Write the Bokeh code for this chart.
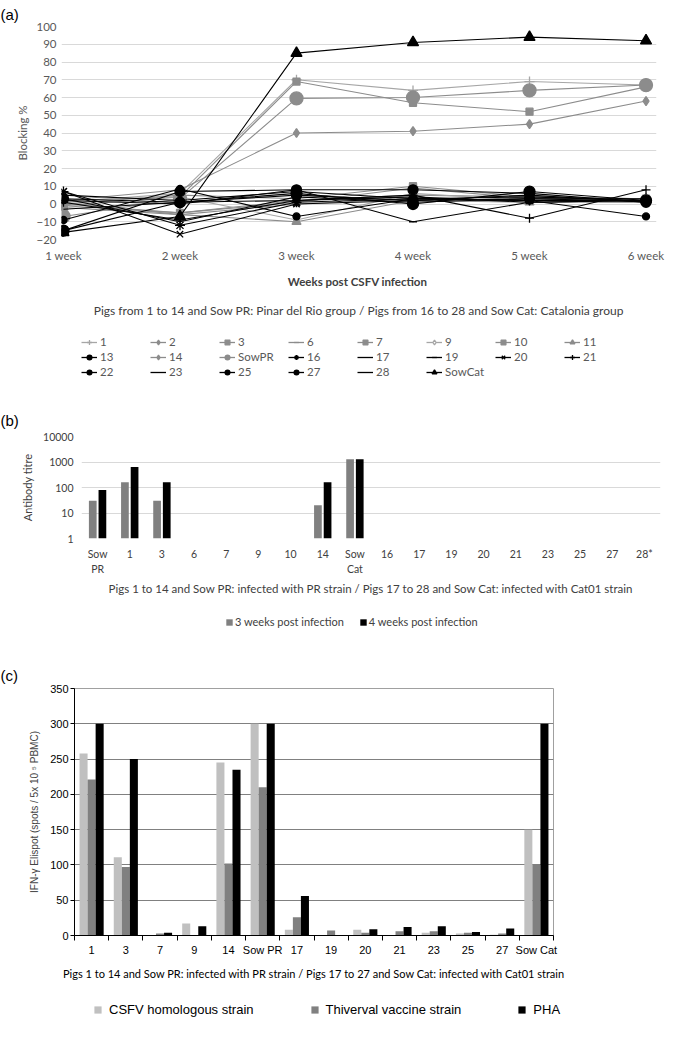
import numpy as np
from bokeh.plotting import figure
from bokeh.models import (Range1d, FixedTicker, Legend, LegendItem, Title,
                          NumeralTickFormatter, FactorRange, ColumnDataSource,
                          CustomJSTickFormatter, CategoricalAxis)
from bokeh.transform import dodge
from bokeh.embed import file_html
from bokeh.resources import INLINE

# ---------------- Panel (a) data: blocking % by week ----------------
weeks = [1, 2, 3, 4, 5, 6]
week_labels = ["1 week", "2 week", "3 week", "4 week", "5 week", "6 week"]
pig_1 = [1, 6, 70, 64, 69, 67]
pig_2 = [0, -5, 2, 5, 4, 3]
pig_3 = [-1, 4, 69, 57, 52, 66]
pig_6 = [1, -6, 0, 3, 2, 2]
pig_7 = [-1, -5, 1, 9, 3, 2]
pig_9 = [2, 4, -9, 6, 2, 1]
pig_10 = [0, 5, 3, 10, 4, 3]
pig_11 = [-2, -6, -10, 2, 1, 1]
pig_13 = [-15, 1, 6, 0, 7, 2]
pig_14 = [2, 8, 40, 41, 45, 58]
sow_pr = [-7, 3, 59.5, 60, 64, 67]
pig_16 = [7, -12, 1, 3, 2, 2]
pig_17 = [5, 2, 7, 3, 4, 2]
pig_19 = [2, 0, 8, -10, 1, 2]
pig_20 = [7, -17, 0, 2, 5, 1]
pig_21 = [1, -9, 2, 5, -8, 8]
pig_22 = [-9, 8.5, -7, 3, 2, -7]
pig_23 = [3, -10, 4, 1, 3, 3]
pig_25 = [-15, 7, 8, 8, 6, 1]
pig_27 = [3, 1, 5, 2, 3, 1.5]
pig_28 = [-3, 1, 2, 4, 1, 2]
sow_cat = [-16, -7, 85, 91, 94, 92]

series_names = ["1", "2", "3", "6", "7", "9", "10", "11", "13", "14", "SowPR",
                "16", "17", "19", "20", "21", "22", "23", "25", "27", "28", "SowCat"]
series_values = [pig_1, pig_2, pig_3, pig_6, pig_7, pig_9, pig_10, pig_11, pig_13,
                 pig_14, sow_pr, pig_16, pig_17, pig_19, pig_20, pig_21, pig_22,
                 pig_23, pig_25, pig_27, pig_28, sow_cat]

# styles: (line colour, marker, size, fill)
G1, G2 = "#a6a6a6", "#8c8c8c"
styles = {
    "1": (G1, "cross", 10, G1), "2": (G2, "diamond", 10, G2), "3": (G2, "square", 7, G2),
    "6": (G2, "dash", 8, G2), "7": (G2, "square", 7, G2), "9": (G1, "diamond", 9, "white"),
    "10": (G2, "square", 7, G2), "11": (G2, "triangle", 9, G2), "13": ("black", "circle", 11, "black"),
    "14": (G2, "diamond", 9, G2), "SowPR": (G2, "circle", 13, G2), "16": ("black", "asterisk", 10, "black"),
    "17": ("black", None, 0, None), "19": ("black", "dash", 8, "black"), "20": ("black", "x", 9, "black"),
    "21": ("black", "cross", 9, "black"), "22": ("black", "circle", 7, "black"),
    "23": ("black", None, 0, None), "25": ("black", "circle", 10, "black"),
    "27": ("black", "circle", 10, "black"), "28": ("black", None, 0, None),
    "SowCat": ("black", "triangle", 11, "black"),
}
legend_marker_size = {"13": 9, "SowPR": 8, "SowCat": 8, "25": 8, "27": 8, "2": 8, "1": 8}

# ---------------- Panel (b) data: antibody titre ----------------
pigs_b = ["Sow PR", "1", "3", "6", "7", "9", "10", "14", "Sow Cat", "16", "17",
          "19", "20", "21", "23", "25", "27", "28*"]
titre_3w = [30, 160, 30, None, None, None, None, 20, 1280, None, None, None, None, None, None, None, None, None]
titre_4w = [80, 640, 160, None, None, None, None, 160, 1280, None, None, None, None, None, None, None, None, None]

# ---------------- Panel (c) data: IFN-gamma ELISPOT ----------------
pigs_c = ["1", "3", "7", "9", "14", "Sow PR", "17", "19", "20", "21", "23", "25", "27", "Sow Cat"]
csfv_homologous = [258, 111, 0, 17, 245, 300, 8, 0, 8, 0, 4, 3, 1, 150]
thiverval = [221, 97, 3, 0, 102, 210, 26, 7, 4, 6, 6, 4, 3, 100]
pha = [300, 250, 4, 13, 235, 300, 56, 0, 9, 12, 13, 5, 10, 300]

FONT = "Lato"
ARIAL = "Liberation Sans"
W = 665
NAN = [np.nan]   # placeholder source for legend-only swatches


def panel_title(text, offset, standoff):
    return Title(text=text, align="left", offset=offset, standoff=standoff,
                 text_font=ARIAL, text_font_size="15px", text_font_style="normal",
                 text_color="#000000")


def text_title(text, size, color, font, offset, standoff, style="normal"):
    return Title(text=text, align="center", offset=offset, standoff=standoff,
                 text_font=font, text_font_size=size, text_font_style=style,
                 text_color=color)


def legend_fig(height):
    f = figure(width=W, height=height, x_range=Range1d(0, 1), y_range=Range1d(0, 1),
               output_backend="svg", toolbar_location=None, min_border=0)
    f.axis.visible = False
    f.grid.visible = False
    f.outline_line_color = None
    return f


def no_ticks(ax):
    ax.axis_line_color = None
    ax.major_tick_line_color = None
    ax.minor_tick_line_color = None
    ax.major_tick_out = 0
    ax.major_tick_in = 0
    ax.minor_tick_out = 0
    ax.minor_tick_in = 0


# ======================= Panel (a) =======================
pa = figure(width=W, height=328, x_range=Range1d(0.983, 6.09), y_range=Range1d(-20, 100),
            output_backend="svg", toolbar_location=None,
            min_border_left=61, min_border_right=9, min_border_top=24, min_border_bottom=85)
pa.outline_line_color = None
pa.xgrid.visible = False
yt = FixedTicker(ticks=list(range(-20, 101, 10)))
pa.yaxis.ticker = yt
pa.ygrid.ticker = yt
pa.ygrid.grid_line_color = "#d9d9d9"
pa.xaxis.ticker = FixedTicker(ticks=weeks)
pa.xaxis.major_label_overrides = {w: l for w, l in zip(weeks, week_labels)}
for ax in (pa.xaxis[0], pa.yaxis[0]):
    no_ticks(ax)
    ax.major_label_text_font = FONT
    ax.major_label_text_font_size = "11.5px"
    ax.major_label_text_color = "#595959"
    ax.axis_label_text_font = FONT
    ax.axis_label_text_color = "#595959"
pa.xaxis.major_label_standoff = 9
pa.yaxis.major_label_standoff = 5
pa.yaxis.axis_label = "Blocking %"
pa.yaxis.axis_label_text_font_size = "11.5px"
pa.yaxis.axis_label_text_font_style = "normal"
pa.yaxis.axis_label_standoff = 4
pa.xaxis.axis_label = "Weeks post  CSFV infection"
pa.xaxis.axis_label_text_font_size = "11.5px"
pa.xaxis.axis_label_text_font_style = "bold"
pa.xaxis.axis_label_text_color = "#404040"
pa.xaxis.axis_label_standoff = 10

for name, vals in zip(series_names, series_values):
    col, mk, sz, fill = styles[name]
    pa.line(weeks, vals, line_color=col, line_width=1.1)
    if mk is not None:
        pa.scatter(weeks, vals, marker=mk, size=sz, line_color=col,
                   fill_color=fill, line_width=1.3)

pa.add_layout(panel_title("(a)", -61, 7), "above")
pa.add_layout(text_title("Pigs from 1 to 14 and Sow PR: Pinar del Rio group / Pigs from 16 to 28 and Sow Cat: Catalonia group",
                         "12px", "#404040", FONT, -15, 21), "below")

# legend strip for (a)
la = legend_fig(72)
items = []
for name in series_names:
    col, mk, sz, fill = styles[name]
    rs = [la.line(NAN, NAN, line_color=col, line_width=1.3)]
    if mk is not None:
        rs.append(la.scatter(NAN, NAN, marker=mk, size=legend_marker_size.get(name, sz),
                             line_color=col, fill_color=fill, line_width=1.3))
    items.append(LegendItem(label=name, renderers=rs))
leg_a = Legend(items=items, location=(81, 22), orientation="horizontal", ncols=8,
               glyph_width=16, glyph_height=12, label_height=12, label_width=48,
               label_standoff=3, spacing=2, padding=0, margin=0,
               border_line_color=None, background_fill_alpha=0,
               label_text_font=FONT, label_text_font_size="11.5px",
               label_text_color="#595959")
la.add_layout(leg_a)

# ======================= Panel (b) =======================
src_b = ColumnDataSource(dict(
    pig=pigs_b,
    w3=[np.nan if v is None else v for v in titre_3w],
    w4=[np.nan if v is None else v for v in titre_4w],
))
pb = figure(width=W, height=196, x_range=FactorRange(*pigs_b), y_range=Range1d(1, 10000),
            y_axis_type="log", output_backend="svg", toolbar_location=None,
            min_border_left=81, min_border_right=5, min_border_top=36, min_border_bottom=54)
pb.outline_line_color = None
pb.xgrid.visible = False
lt = FixedTicker(ticks=[1, 10, 100, 1000, 10000])
pb.yaxis.ticker = lt
pb.ygrid.ticker = lt
pb.ygrid.grid_line_color = "#d9d9d9"
pb.yaxis.formatter = NumeralTickFormatter(format="0")
pb.xaxis.formatter = CustomJSTickFormatter(code="return tick.startsWith('Sow') ? 'Sow' : tick;")
ax2 = CategoricalAxis(formatter=CustomJSTickFormatter(
    code="return tick == 'Sow PR' ? 'PR' : (tick == 'Sow Cat' ? 'Cat' : '');"))
pb.add_layout(ax2, "below")
for ax in (pb.xaxis[0], ax2, pb.yaxis[0]):
    no_ticks(ax)
    ax.major_label_text_font = FONT
    ax.major_label_text_font_size = "10.5px"
    ax.major_label_text_color = "#404040"
pb.xaxis[0].major_label_standoff = 9
ax2.major_label_standoff = 0
pb.yaxis.major_label_standoff = 8
pb.yaxis.axis_label = "Antibody titre"
pb.yaxis.axis_label_text_font = FONT
pb.yaxis.axis_label_text_font_size = "11px"
pb.yaxis.axis_label_text_font_style = "normal"
pb.yaxis.axis_label_text_color = "#404040"
pb.yaxis.axis_label_standoff = 6

pb.vbar(x=dodge("pig", -0.15, range=pb.x_range), top="w3", bottom=1, width=0.24,
        fill_color="#808080", line_color=None, source=src_b)
pb.vbar(x=dodge("pig", 0.15, range=pb.x_range), top="w4", bottom=1, width=0.24,
        fill_color="#000000", line_color=None, source=src_b)
pb.add_layout(panel_title("(b)", -81, 16), "above")
pb.add_layout(text_title("Pigs 1 to 14 and Sow PR: infected with PR strain / Pigs 17 to 28 and Sow Cat: infected with Cat01 strain",
                         "11.5px", "#404040", FONT, 0, 4), "below")

lb = legend_fig(54)
lb3 = lb.vbar(x=NAN, top=NAN, width=0.1, fill_color="#808080", line_color=None)
lb4 = lb.vbar(x=NAN, top=NAN, width=0.1, fill_color="#000000", line_color=None)
leg_b = Legend(items=[LegendItem(label="3 weeks post infection", renderers=[lb3]),
                      LegendItem(label="4 weeks post infection", renderers=[lb4])],
               location=(225, 22), orientation="horizontal",
               glyph_width=8, glyph_height=8, label_height=12, label_width=103,
               label_standoff=2, spacing=15, padding=0, margin=0,
               border_line_color=None, background_fill_alpha=0,
               label_text_font=FONT, label_text_font_size="11px", label_text_color="#404040")
lb.add_layout(leg_b)

# ======================= Panel (c) =======================
centers = [i + 0.5 for i in range(len(pigs_c))]
src_c = ColumnDataSource(dict(x=centers, csfv=csfv_homologous, thi=thiverval, pha=pha))
pc = figure(width=W, height=336, x_range=Range1d(0, len(pigs_c)), y_range=Range1d(0, 350),
            output_backend="svg", toolbar_location=None,
            min_border_left=74, min_border_right=112, min_border_top=38, min_border_bottom=50)
pc.outline_line_color = "#a0a0a0"
pc.xgrid.visible = False
ct = FixedTicker(ticks=list(range(0, 351, 50)))
pc.yaxis.ticker = ct
pc.ygrid.ticker = ct
pc.ygrid.grid_line_color = "#808080"
pc.xaxis.ticker = FixedTicker(ticks=centers, minor_ticks=list(range(len(pigs_c) + 1)))
pc.xaxis.formatter = CustomJSTickFormatter(args=dict(labels=pigs_c),
                                           code="return labels[Math.floor(tick)] || '';")
pc.xaxis.axis_line_color = "black"
pc.xaxis.major_tick_line_color = None
pc.xaxis.major_tick_out = 0
pc.xaxis.major_tick_in = 0
pc.xaxis.minor_tick_line_color = "black"
pc.xaxis.minor_tick_out = 5
pc.xaxis.minor_tick_in = 0
pc.xaxis.major_label_standoff = 3
pc.yaxis.axis_line_color = "black"
pc.yaxis.major_tick_line_color = "black"
pc.yaxis.major_tick_out = 4
pc.yaxis.major_tick_in = 0
pc.yaxis.minor_tick_line_color = None
pc.yaxis.minor_tick_out = 0
pc.yaxis.minor_tick_in = 0
pc.yaxis.major_label_standoff = 2
for ax in (pc.xaxis, pc.yaxis):
    ax.major_label_text_font = ARIAL
    ax.major_label_text_font_size = "11px"
    ax.major_label_text_color = "#000000"
pc.yaxis.axis_label = "IFN-γ Elispot (spots / 5x 10 ⁵ PBMC)"
pc.yaxis.axis_label_text_font = ARIAL
pc.yaxis.axis_label_text_font_size = "10px"
pc.yaxis.axis_label_text_font_style = "normal"
pc.yaxis.axis_label_standoff = 7

pc.vbar(x=dodge("x", -0.235), top="csfv", width=0.235, fill_color="#c0c0c0",
        line_color=None, source=src_c)
pc.vbar(x="x", top="thi", width=0.235, fill_color="#808080", line_color=None, source=src_c)
pc.vbar(x=dodge("x", 0.235), top="pha", width=0.235, fill_color="#000000",
        line_color=None, source=src_c)
pc.add_layout(panel_title("(c)", -74, 10), "above")
pc.add_layout(text_title("Pigs 1 to 14 and Sow PR: infected with PR strain / Pigs 17 to 27 and Sow Cat: infected with Cat01 strain",
                         "11px", "#000000", FONT, -1, 13), "below")

lc = legend_fig(36)
lc1 = lc.vbar(x=NAN, top=NAN, width=0.1, fill_color="#c0c0c0", line_color=None)
lc2 = lc.vbar(x=NAN, top=NAN, width=0.1, fill_color="#808080", line_color=None)
lc3 = lc.vbar(x=NAN, top=NAN, width=0.1, fill_color="#000000", line_color=None)
leg_c = Legend(items=[LegendItem(label="CSFV homologous strain", renderers=[lc1]),
                      LegendItem(label="Thiverval vaccine strain", renderers=[lc2]),
                      LegendItem(label="PHA", renderers=[lc3])],
               location=(93, 5), orientation="horizontal",
               glyph_width=9, glyph_height=9, label_height=14, label_width=135,
               label_standoff=7, spacing=56, padding=0, margin=0,
               border_line_color=None, background_fill_alpha=0,
               label_text_font=ARIAL, label_text_font_size="13px", label_text_color="#000000")
lc.add_layout(leg_c)

open("out.html", "w").write(file_html([pa, la, pb, lb, pc, lc], INLINE))
